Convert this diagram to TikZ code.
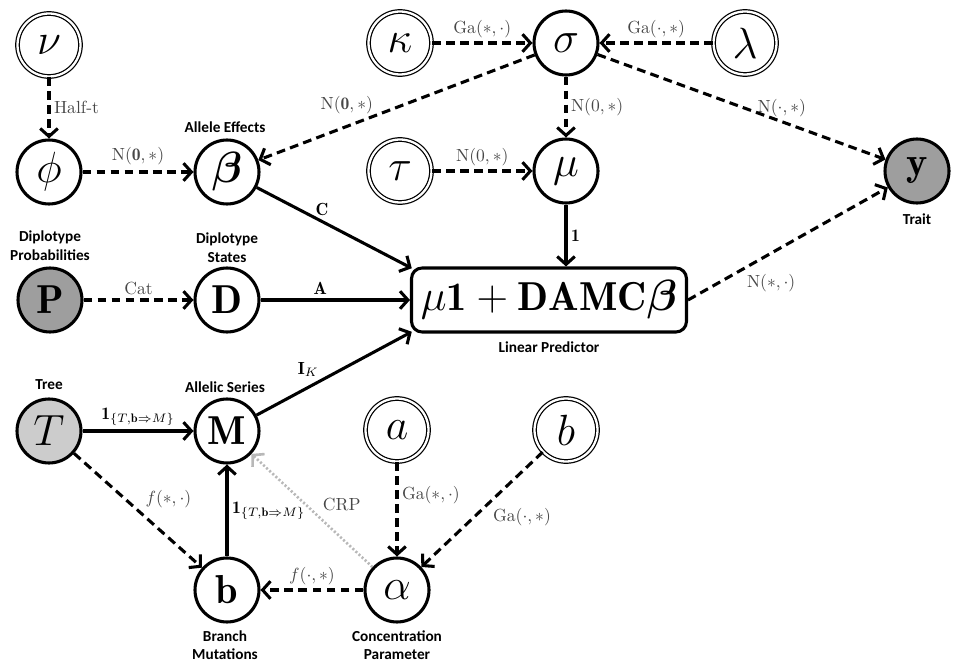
\documentclass[tikz,border=0pt]{standalone}
\usepackage{fontspec}
\usepackage{amsmath,amssymb,bm}
\newfontfamily\annotfont{Carlito}
\usetikzlibrary{arrows.meta}
\begin{document}
\begin{tikzpicture}[x=0.02cm,y=-0.02cm,
  var/.style={circle, draw, line width=1.75pt, minimum size=1.28cm, inner sep=0pt, font=\fontsize{23}{26}\selectfont},
  hyper/.style={circle, draw, double, line width=0.7pt, double distance=1.3pt, minimum size=1.26cm, inner sep=0pt, font=\fontsize{23}{26}\selectfont},
  obs/.style={var, fill=black!38},
  treenode/.style={var, fill=black!20},
  annot/.style={font=\annotfont\bfseries\fontsize{8.7}{10.6}\selectfont, align=center, inner sep=0pt},
  elab/.style={font=\fontsize{10}{12}\selectfont, text=black!72, inner sep=2pt},
  slab/.style={font=\fontsize{10}{12}\selectfont, text=black, inner sep=2pt},
  dep/.style={line width=1.75pt, dash pattern=on 5pt off 3pt, -{Straight Barb[length=4.5pt,width=10pt]}},
  det/.style={line width=1.75pt, -{Straight Barb[length=4.5pt,width=10pt]}},
  crp/.style={line width=1.5pt, draw=black!28, dash pattern=on 1.2pt off 1.2pt, -{Straight Barb[length=4.5pt,width=10pt]}}
]
\useasboundingbox (0,0) rectangle (960,672);

% nodes
\node[hyper] (nu) at (49,45) {$\nu$};
\node[var] (phi) at (49,172) {$\phi$};
\node[var] (beta) at (227,172) {$\bm{\beta}$};
\node[hyper] (kappa) at (400,43) {$\kappa$};
\node[var] (sigma) at (566,43) {$\sigma$};
\node[hyper] (lambda) at (745,43) {$\lambda$};
\node[hyper] (tau) at (400,171) {$\tau$};
\node[var] (mu) at (566,171) {$\mu$};
\node[obs] (y) at (917,171) {$\mathbf{y}$};
\node[obs] (P) at (50,300) {$\mathbf{P}$};
\node[var] (D) at (227,300) {$\mathbf{D}$};
\node[draw, line width=1.75pt, rounded corners=6pt, minimum width=5.5cm, minimum height=1.28cm, inner sep=0pt, font=\fontsize{23}{26}\selectfont] (lp) at (549,300) {$\mu\mathbf{1}+\mathbf{DAMC}\bm{\beta}$};
\node[treenode] (T) at (49,431) {$T$};
\node[var] (M) at (227,431) {$\mathbf{M}$};
\node[hyper] (a) at (397,430) {$a$};
\node[hyper] (bh) at (566,430) {$b$};
\node[var] (b) at (227,590) {$\mathbf{b}$};
\node[var] (alpha) at (397,590) {$\alpha$};

% annotations
\node[annot] (tAllele) at (225,127) {Allele Effects};
\node[annot] (tTrait) at (917,219) {Trait};
\node[annot] (tDP) at (50,246) {Diplotype\\Probabilities};
\node[annot] (tDS) at (227,248) {Diplotype\\States};
\node[annot] (tLP) at (549,347) {Linear Predictor};
\node[annot] (tTree) at (49,385) {Tree};
\node[annot] (tAS) at (225,387) {Allelic Series};
\node[annot] (tBM) at (225,645) {Branch\\Mutations};
\node[annot] (tCP) at (397,645) {Concentration\\Parameter};

% edges
\draw[dep] (nu) -- node[elab, right] {Half-t} (phi);
\draw[dep] (phi) -- node[elab, above, yshift=1pt] {$\mathrm{N}(\mathbf{0},\ast)$} (beta);
\draw[dep] (kappa) -- node[elab, above] {$\mathrm{Ga}(\ast,\cdot)$} (sigma);
\draw[dep] (lambda) -- node[elab, above] {$\mathrm{Ga}(\cdot,\ast)$} (sigma);
\draw[dep] (sigma) -- node[elab, pos=0.68, above=4pt] {$\mathrm{N}(\mathbf{0},\ast)$} (beta);
\draw[dep] (sigma) -- node[elab, pos=0.64, above=0pt] {$\mathrm{N}(\cdot,\ast)$} (y);
\draw[dep] (sigma) -- node[elab, right] {$\mathrm{N}(0,\ast)$} (mu);
\draw[dep] (tau) -- node[elab, above] {$\mathrm{N}(0,\ast)$} (mu);
\draw[det] (beta) -- node[slab, pos=0.37, above right=-2pt] {$\mathbf{C}$} ([xshift=1pt,yshift=-1pt]lp.north west);
\draw[det] (mu) -- node[slab, right] {$\mathbf{1}$} (mu |- lp.north);
\draw[dep] (P) -- node[elab, above] {Cat} (D);
\draw[det] (D) -- node[slab, pos=0.4, above] {$\mathbf{A}$} (lp);
\draw[det] (M) -- node[slab, pos=0.42, above left=-1pt] {$\mathbf{I}_K$} ([xshift=1pt,yshift=1pt]lp.south west);
\draw[dep] (lp.east) -- node[elab, pos=0.27, below right=0pt] {$\mathrm{N}(\ast,\cdot)$} (y);
\draw[det] (T) -- node[slab, above] {$\mathbf{1}_{\{T,\mathbf{b}\Rightarrow M\}}$} (M);
\draw[dep] (T) -- node[elab, pos=0.52, above right] {$f(\ast,\cdot)$} (b);
\draw[det] (b) -- node[slab, right] {$\mathbf{1}_{\{T,\mathbf{b}\Rightarrow M\}}$} (M);
\draw[crp] (alpha) -- node[elab, pos=0.45, above right] {CRP} (M);
\draw[dep] (alpha) -- node[elab, above] {$f(\cdot,\ast)$} (b);
\draw[dep] (a) -- node[elab, pos=0.35, right] {$\mathrm{Ga}(\ast,\cdot)$} (alpha);
\draw[dep] (bh) -- node[elab, pos=0.45, below right] {$\mathrm{Ga}(\cdot,\ast)$} (alpha);
\end{tikzpicture}
\end{document}
